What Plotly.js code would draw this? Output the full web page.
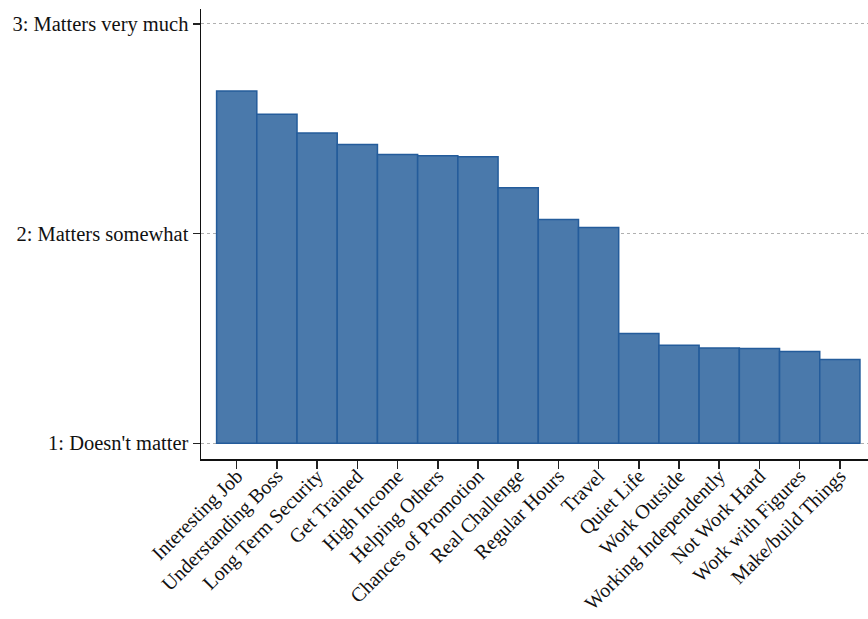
<!DOCTYPE html>
<html>
<head>
<meta charset="utf-8">
<script src="https://cdn.plot.ly/plotly-3.0.1.min.js"></script>
<style>html,body{margin:0;padding:0;background:#fff;}#chart{width:868px;height:619px;}</style>
</head>
<body>
<div id="chart"></div>
<script>
const categories = ["Interesting Job","Understanding Boss","Long Term Security","Get Trained","High Income","Helping Others","Chances of Promotion","Real Challenge","Regular Hours","Travel","Quiet Life","Work Outside","Working Independently","Not Work Hard","Work with Figures","Make/build Things"];
const meanValues = [2.68, 2.57, 2.48, 2.425, 2.377, 2.372, 2.367, 2.219, 2.067, 2.029, 1.524, 1.467, 1.454, 1.452, 1.438, 1.40];
const baseValue = 1;
const yTickVals = [1, 2, 3];
const yTickText = ["1: Doesn't matter", "2: Matters somewhat", "3: Matters very much"];

const font = "Liberation Serif, DejaVu Serif, serif";
const trace = {
  type: "bar",
  x: categories.map((c, i) => i),
  y: meanValues.map(v => v - baseValue),
  base: baseValue,
  marker: {color: "#4a79ab", line: {color: "#245c9b", width: 1.5}},
  hoverinfo: "skip"
};
const layout = {
  width: 868, height: 619,
  margin: {l: 201, r: 0, t: 9, b: 160},
  paper_bgcolor: "#fff", plot_bgcolor: "#fff",
  showlegend: false,
  bargap: 0,
  font: {family: font, size: 20.5, color: "#111"},
  xaxis: {
    range: [-0.888, 15.7],
    tickmode: "array",
    tickvals: categories.map((c, i) => i),
    ticktext: categories,
    tickangle: -45,
    ticks: "outside", ticklen: 8, tickcolor: "#222", tickwidth: 1.5,
    ticklabelstandoff: -12,
    showline: true, linecolor: "#111", linewidth: 1.5,
    showgrid: false, zeroline: false,
    tickfont: {family: font, size: 20, color: "#111"}
  },
  yaxis: {
    range: [0.925, 3.0715],
    tickmode: "array",
    tickvals: yTickVals,
    ticktext: yTickText,
    ticks: "outside", ticklen: 7, tickcolor: "#222", tickwidth: 1.5,
    showline: true, linecolor: "#111", linewidth: 1.5,
    showgrid: true, gridcolor: "#b0b0b0", griddash: "dot", gridwidth: 1,
    zeroline: false,
    tickfont: {family: font, size: 20.5, color: "#111"}
  }
};
Plotly.newPlot("chart", [trace], layout, {displayModeBar: false, staticPlot: true});
</script>
</body>
</html>
